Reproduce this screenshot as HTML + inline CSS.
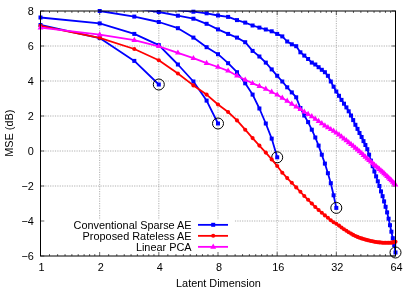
<!DOCTYPE html>
<html><head><meta charset="utf-8"><title>MSE vs Latent Dimension</title>
<style>html,body{margin:0;padding:0;background:#fff;}body{width:415px;height:291px;overflow:hidden;font-family:"Liberation Sans",sans-serif;}</style>
</head><body>
<svg width="415" height="291" viewBox="0 0 415 291" style="display:block">
<rect width="415" height="291" fill="#fff"/>
<defs><clipPath id="c"><rect x="37.5" y="10.5" width="361.0" height="251.0"/></clipPath></defs>
<g stroke="#9c9c9c" stroke-width="0.8" stroke-dasharray="1.2,1.2" fill="none"><line x1="99.67" y1="11.0" x2="99.67" y2="256.0"/><line x1="158.83" y1="11.0" x2="158.83" y2="256.0"/><line x1="218.00" y1="11.0" x2="218.00" y2="256.0"/><line x1="277.17" y1="11.0" x2="277.17" y2="256.0"/><line x1="336.33" y1="11.0" x2="336.33" y2="256.0"/><line x1="40.5" y1="46.00" x2="395.5" y2="46.00"/><line x1="40.5" y1="81.00" x2="395.5" y2="81.00"/><line x1="40.5" y1="116.00" x2="395.5" y2="116.00"/><line x1="40.5" y1="151.00" x2="395.5" y2="151.00"/><line x1="40.5" y1="186.00" x2="395.5" y2="186.00"/><line x1="40.5" y1="221.00" x2="395.5" y2="221.00"/></g>
<rect x="41" y="219.8" width="193.5" height="35.7" fill="#fff"/>
<g stroke="#000" stroke-width="0.6"><line x1="40.50" y1="256.0" x2="40.50" y2="252.0"/><line x1="40.50" y1="11.0" x2="40.50" y2="15.0"/><line x1="49.49" y1="256.0" x2="49.49" y2="254.0"/><line x1="49.49" y1="11.0" x2="49.49" y2="13.0"/><line x1="57.63" y1="256.0" x2="57.63" y2="254.0"/><line x1="57.63" y1="11.0" x2="57.63" y2="13.0"/><line x1="65.06" y1="256.0" x2="65.06" y2="254.0"/><line x1="65.06" y1="11.0" x2="65.06" y2="13.0"/><line x1="71.89" y1="256.0" x2="71.89" y2="254.0"/><line x1="71.89" y1="11.0" x2="71.89" y2="13.0"/><line x1="78.21" y1="256.0" x2="78.21" y2="254.0"/><line x1="78.21" y1="11.0" x2="78.21" y2="13.0"/><line x1="84.10" y1="256.0" x2="84.10" y2="254.0"/><line x1="84.10" y1="11.0" x2="84.10" y2="13.0"/><line x1="89.61" y1="256.0" x2="89.61" y2="254.0"/><line x1="89.61" y1="11.0" x2="89.61" y2="13.0"/><line x1="94.79" y1="256.0" x2="94.79" y2="254.0"/><line x1="94.79" y1="11.0" x2="94.79" y2="13.0"/><line x1="99.67" y1="256.0" x2="99.67" y2="252.0"/><line x1="99.67" y1="11.0" x2="99.67" y2="15.0"/><line x1="108.66" y1="256.0" x2="108.66" y2="254.0"/><line x1="108.66" y1="11.0" x2="108.66" y2="13.0"/><line x1="116.80" y1="256.0" x2="116.80" y2="254.0"/><line x1="116.80" y1="11.0" x2="116.80" y2="13.0"/><line x1="124.22" y1="256.0" x2="124.22" y2="254.0"/><line x1="124.22" y1="11.0" x2="124.22" y2="13.0"/><line x1="131.06" y1="256.0" x2="131.06" y2="254.0"/><line x1="131.06" y1="11.0" x2="131.06" y2="13.0"/><line x1="137.38" y1="256.0" x2="137.38" y2="254.0"/><line x1="137.38" y1="11.0" x2="137.38" y2="13.0"/><line x1="143.27" y1="256.0" x2="143.27" y2="254.0"/><line x1="143.27" y1="11.0" x2="143.27" y2="13.0"/><line x1="148.78" y1="256.0" x2="148.78" y2="254.0"/><line x1="148.78" y1="11.0" x2="148.78" y2="13.0"/><line x1="153.95" y1="256.0" x2="153.95" y2="254.0"/><line x1="153.95" y1="11.0" x2="153.95" y2="13.0"/><line x1="158.83" y1="256.0" x2="158.83" y2="252.0"/><line x1="158.83" y1="11.0" x2="158.83" y2="15.0"/><line x1="167.83" y1="256.0" x2="167.83" y2="254.0"/><line x1="167.83" y1="11.0" x2="167.83" y2="13.0"/><line x1="175.96" y1="256.0" x2="175.96" y2="254.0"/><line x1="175.96" y1="11.0" x2="175.96" y2="13.0"/><line x1="183.39" y1="256.0" x2="183.39" y2="254.0"/><line x1="183.39" y1="11.0" x2="183.39" y2="13.0"/><line x1="190.22" y1="256.0" x2="190.22" y2="254.0"/><line x1="190.22" y1="11.0" x2="190.22" y2="13.0"/><line x1="196.55" y1="256.0" x2="196.55" y2="254.0"/><line x1="196.55" y1="11.0" x2="196.55" y2="13.0"/><line x1="202.44" y1="256.0" x2="202.44" y2="254.0"/><line x1="202.44" y1="11.0" x2="202.44" y2="13.0"/><line x1="207.95" y1="256.0" x2="207.95" y2="254.0"/><line x1="207.95" y1="11.0" x2="207.95" y2="13.0"/><line x1="213.12" y1="256.0" x2="213.12" y2="254.0"/><line x1="213.12" y1="11.0" x2="213.12" y2="13.0"/><line x1="218.00" y1="256.0" x2="218.00" y2="252.0"/><line x1="218.00" y1="11.0" x2="218.00" y2="15.0"/><line x1="226.99" y1="256.0" x2="226.99" y2="254.0"/><line x1="226.99" y1="11.0" x2="226.99" y2="13.0"/><line x1="235.13" y1="256.0" x2="235.13" y2="254.0"/><line x1="235.13" y1="11.0" x2="235.13" y2="13.0"/><line x1="242.56" y1="256.0" x2="242.56" y2="254.0"/><line x1="242.56" y1="11.0" x2="242.56" y2="13.0"/><line x1="249.39" y1="256.0" x2="249.39" y2="254.0"/><line x1="249.39" y1="11.0" x2="249.39" y2="13.0"/><line x1="255.71" y1="256.0" x2="255.71" y2="254.0"/><line x1="255.71" y1="11.0" x2="255.71" y2="13.0"/><line x1="261.60" y1="256.0" x2="261.60" y2="254.0"/><line x1="261.60" y1="11.0" x2="261.60" y2="13.0"/><line x1="267.11" y1="256.0" x2="267.11" y2="254.0"/><line x1="267.11" y1="11.0" x2="267.11" y2="13.0"/><line x1="272.29" y1="256.0" x2="272.29" y2="254.0"/><line x1="272.29" y1="11.0" x2="272.29" y2="13.0"/><line x1="277.17" y1="256.0" x2="277.17" y2="252.0"/><line x1="277.17" y1="11.0" x2="277.17" y2="15.0"/><line x1="286.16" y1="256.0" x2="286.16" y2="254.0"/><line x1="286.16" y1="11.0" x2="286.16" y2="13.0"/><line x1="294.30" y1="256.0" x2="294.30" y2="254.0"/><line x1="294.30" y1="11.0" x2="294.30" y2="13.0"/><line x1="301.72" y1="256.0" x2="301.72" y2="254.0"/><line x1="301.72" y1="11.0" x2="301.72" y2="13.0"/><line x1="308.56" y1="256.0" x2="308.56" y2="254.0"/><line x1="308.56" y1="11.0" x2="308.56" y2="13.0"/><line x1="314.88" y1="256.0" x2="314.88" y2="254.0"/><line x1="314.88" y1="11.0" x2="314.88" y2="13.0"/><line x1="320.77" y1="256.0" x2="320.77" y2="254.0"/><line x1="320.77" y1="11.0" x2="320.77" y2="13.0"/><line x1="326.28" y1="256.0" x2="326.28" y2="254.0"/><line x1="326.28" y1="11.0" x2="326.28" y2="13.0"/><line x1="331.45" y1="256.0" x2="331.45" y2="254.0"/><line x1="331.45" y1="11.0" x2="331.45" y2="13.0"/><line x1="336.33" y1="256.0" x2="336.33" y2="252.0"/><line x1="336.33" y1="11.0" x2="336.33" y2="15.0"/><line x1="345.33" y1="256.0" x2="345.33" y2="254.0"/><line x1="345.33" y1="11.0" x2="345.33" y2="13.0"/><line x1="353.46" y1="256.0" x2="353.46" y2="254.0"/><line x1="353.46" y1="11.0" x2="353.46" y2="13.0"/><line x1="360.89" y1="256.0" x2="360.89" y2="254.0"/><line x1="360.89" y1="11.0" x2="360.89" y2="13.0"/><line x1="367.72" y1="256.0" x2="367.72" y2="254.0"/><line x1="367.72" y1="11.0" x2="367.72" y2="13.0"/><line x1="374.05" y1="256.0" x2="374.05" y2="254.0"/><line x1="374.05" y1="11.0" x2="374.05" y2="13.0"/><line x1="379.94" y1="256.0" x2="379.94" y2="254.0"/><line x1="379.94" y1="11.0" x2="379.94" y2="13.0"/><line x1="385.45" y1="256.0" x2="385.45" y2="254.0"/><line x1="385.45" y1="11.0" x2="385.45" y2="13.0"/><line x1="390.62" y1="256.0" x2="390.62" y2="254.0"/><line x1="390.62" y1="11.0" x2="390.62" y2="13.0"/><line x1="395.50" y1="256.0" x2="395.50" y2="252.0"/><line x1="395.50" y1="11.0" x2="395.50" y2="15.0"/><line x1="40.5" y1="11.00" x2="44.3" y2="11.00"/><line x1="395.5" y1="11.00" x2="391.7" y2="11.00"/><line x1="40.5" y1="46.00" x2="44.3" y2="46.00"/><line x1="395.5" y1="46.00" x2="391.7" y2="46.00"/><line x1="40.5" y1="81.00" x2="44.3" y2="81.00"/><line x1="395.5" y1="81.00" x2="391.7" y2="81.00"/><line x1="40.5" y1="116.00" x2="44.3" y2="116.00"/><line x1="395.5" y1="116.00" x2="391.7" y2="116.00"/><line x1="40.5" y1="151.00" x2="44.3" y2="151.00"/><line x1="395.5" y1="151.00" x2="391.7" y2="151.00"/><line x1="40.5" y1="186.00" x2="44.3" y2="186.00"/><line x1="395.5" y1="186.00" x2="391.7" y2="186.00"/><line x1="40.5" y1="221.00" x2="44.3" y2="221.00"/><line x1="395.5" y1="221.00" x2="391.7" y2="221.00"/><line x1="40.5" y1="256.00" x2="44.3" y2="256.00"/><line x1="395.5" y1="256.00" x2="391.7" y2="256.00"/></g>
<g clip-path="url(#c)">
<polyline points="40.5,25.0 99.7,38.1 134.3,60.9 158.8,84.5" fill="none" stroke="#0000ff" stroke-width="1.8" stroke-linejoin="round"/>
<polyline points="40.5,17.5 99.7,23.4 134.3,33.9 158.8,45.1 177.9,64.5 193.4,81.5 206.6,100.6 218.0,123.5" fill="none" stroke="#0000ff" stroke-width="1.8" stroke-linejoin="round"/>
<polyline points="99.7,11.0 134.3,16.6 158.8,22.0 177.9,28.2 193.4,37.6 206.6,47.2 218.0,54.2 228.1,63.2 237.0,72.2 245.2,83.3 252.6,94.6 259.4,108.5 265.8,123.5 271.7,138.6 277.2,157.3" fill="none" stroke="#0000ff" stroke-width="1.8" stroke-linejoin="round"/>
<polyline points="134.3,8.2 158.8,12.0 177.9,15.7 193.4,18.7 206.6,23.8 218.0,29.4 228.1,33.9 237.0,37.6 245.2,42.2 252.6,50.9 259.4,56.5 265.8,62.6 271.7,69.4 277.2,75.8 282.3,81.5 287.2,87.3 291.8,92.4 296.2,97.3 300.4,108.0 304.3,115.5 308.1,122.1 311.8,129.7 315.3,137.5 318.6,145.6 321.8,154.7 324.9,163.6 327.9,173.2 330.8,183.2 333.6,195.3 336.3,207.9" fill="none" stroke="#0000ff" stroke-width="1.8" stroke-linejoin="round"/>
<polyline points="177.9,10.3 193.4,11.7 206.6,13.3 218.0,15.5 228.1,16.9 237.0,20.1 245.2,22.6 252.6,25.5 259.4,27.6 265.8,29.5 271.7,31.3 277.2,33.9 282.3,36.4 287.2,41.5 291.8,44.3 296.2,46.2 300.4,52.3 304.3,55.6 308.1,59.0 311.8,62.6 315.3,64.5 318.6,67.2 321.8,69.8 324.9,72.2 327.9,75.8 330.8,81.5 333.6,86.7 336.3,91.5 339.0,95.8 341.5,99.9 344.0,103.7 346.4,107.4 348.7,111.3 351.0,115.5 353.2,120.1 355.4,124.8 357.5,128.9 359.5,133.0 361.6,137.0 363.5,141.1 365.4,145.0 367.3,149.2 369.1,154.7 370.9,160.6 372.7,166.2 374.4,171.5 376.1,176.4 377.8,181.3 379.4,186.0 381.0,191.4 382.6,196.2 384.1,201.4 385.6,206.8 387.1,212.4 388.6,218.7 390.0,225.2 391.4,231.7 392.8,238.2 394.2,245.0 395.5,252.5" fill="none" stroke="#0000ff" stroke-width="1.8" stroke-linejoin="round"/>
</g>
<rect x="38.5" y="23.0" width="4.0" height="4.0" fill="#0000ff"/><rect x="97.7" y="36.1" width="4.0" height="4.0" fill="#0000ff"/><rect x="132.3" y="58.9" width="4.0" height="4.0" fill="#0000ff"/><rect x="156.8" y="82.5" width="4.0" height="4.0" fill="#0000ff"/><rect x="38.5" y="15.5" width="4.0" height="4.0" fill="#0000ff"/><rect x="97.7" y="21.4" width="4.0" height="4.0" fill="#0000ff"/><rect x="132.3" y="31.9" width="4.0" height="4.0" fill="#0000ff"/><rect x="156.8" y="43.1" width="4.0" height="4.0" fill="#0000ff"/><rect x="175.9" y="62.5" width="4.0" height="4.0" fill="#0000ff"/><rect x="191.4" y="79.5" width="4.0" height="4.0" fill="#0000ff"/><rect x="204.6" y="98.6" width="4.0" height="4.0" fill="#0000ff"/><rect x="216.0" y="121.5" width="4.0" height="4.0" fill="#0000ff"/><rect x="97.7" y="9.0" width="4.0" height="4.0" fill="#0000ff"/><rect x="132.3" y="14.6" width="4.0" height="4.0" fill="#0000ff"/><rect x="156.8" y="20.0" width="4.0" height="4.0" fill="#0000ff"/><rect x="175.9" y="26.2" width="4.0" height="4.0" fill="#0000ff"/><rect x="191.4" y="35.6" width="4.0" height="4.0" fill="#0000ff"/><rect x="204.6" y="45.2" width="4.0" height="4.0" fill="#0000ff"/><rect x="216.0" y="52.2" width="4.0" height="4.0" fill="#0000ff"/><rect x="226.1" y="61.2" width="4.0" height="4.0" fill="#0000ff"/><rect x="235.0" y="70.2" width="4.0" height="4.0" fill="#0000ff"/><rect x="243.2" y="81.3" width="4.0" height="4.0" fill="#0000ff"/><rect x="250.6" y="92.6" width="4.0" height="4.0" fill="#0000ff"/><rect x="257.4" y="106.5" width="4.0" height="4.0" fill="#0000ff"/><rect x="263.8" y="121.5" width="4.0" height="4.0" fill="#0000ff"/><rect x="269.7" y="136.6" width="4.0" height="4.0" fill="#0000ff"/><rect x="275.2" y="155.3" width="4.0" height="4.0" fill="#0000ff"/><rect x="156.8" y="10.0" width="4.0" height="4.0" fill="#0000ff"/><rect x="175.9" y="13.7" width="4.0" height="4.0" fill="#0000ff"/><rect x="191.4" y="16.7" width="4.0" height="4.0" fill="#0000ff"/><rect x="204.6" y="21.8" width="4.0" height="4.0" fill="#0000ff"/><rect x="216.0" y="27.4" width="4.0" height="4.0" fill="#0000ff"/><rect x="226.1" y="31.9" width="4.0" height="4.0" fill="#0000ff"/><rect x="235.0" y="35.6" width="4.0" height="4.0" fill="#0000ff"/><rect x="243.2" y="40.2" width="4.0" height="4.0" fill="#0000ff"/><rect x="250.6" y="48.9" width="4.0" height="4.0" fill="#0000ff"/><rect x="257.4" y="54.5" width="4.0" height="4.0" fill="#0000ff"/><rect x="263.8" y="60.6" width="4.0" height="4.0" fill="#0000ff"/><rect x="269.7" y="67.4" width="4.0" height="4.0" fill="#0000ff"/><rect x="275.2" y="73.8" width="4.0" height="4.0" fill="#0000ff"/><rect x="280.3" y="79.5" width="4.0" height="4.0" fill="#0000ff"/><rect x="285.2" y="85.3" width="4.0" height="4.0" fill="#0000ff"/><rect x="289.8" y="90.4" width="4.0" height="4.0" fill="#0000ff"/><rect x="294.2" y="95.3" width="4.0" height="4.0" fill="#0000ff"/><rect x="298.4" y="106.0" width="4.0" height="4.0" fill="#0000ff"/><rect x="302.3" y="113.5" width="4.0" height="4.0" fill="#0000ff"/><rect x="306.1" y="120.1" width="4.0" height="4.0" fill="#0000ff"/><rect x="309.8" y="127.7" width="4.0" height="4.0" fill="#0000ff"/><rect x="313.3" y="135.5" width="4.0" height="4.0" fill="#0000ff"/><rect x="316.6" y="143.6" width="4.0" height="4.0" fill="#0000ff"/><rect x="319.8" y="152.7" width="4.0" height="4.0" fill="#0000ff"/><rect x="322.9" y="161.6" width="4.0" height="4.0" fill="#0000ff"/><rect x="325.9" y="171.2" width="4.0" height="4.0" fill="#0000ff"/><rect x="328.8" y="181.2" width="4.0" height="4.0" fill="#0000ff"/><rect x="331.6" y="193.3" width="4.0" height="4.0" fill="#0000ff"/><rect x="334.3" y="205.9" width="4.0" height="4.0" fill="#0000ff"/><rect x="191.4" y="9.7" width="4.0" height="4.0" fill="#0000ff"/><rect x="204.6" y="11.3" width="4.0" height="4.0" fill="#0000ff"/><rect x="216.0" y="13.5" width="4.0" height="4.0" fill="#0000ff"/><rect x="226.1" y="14.9" width="4.0" height="4.0" fill="#0000ff"/><rect x="235.0" y="18.1" width="4.0" height="4.0" fill="#0000ff"/><rect x="243.2" y="20.6" width="4.0" height="4.0" fill="#0000ff"/><rect x="250.6" y="23.5" width="4.0" height="4.0" fill="#0000ff"/><rect x="257.4" y="25.6" width="4.0" height="4.0" fill="#0000ff"/><rect x="263.8" y="27.5" width="4.0" height="4.0" fill="#0000ff"/><rect x="269.7" y="29.3" width="4.0" height="4.0" fill="#0000ff"/><rect x="275.2" y="31.9" width="4.0" height="4.0" fill="#0000ff"/><rect x="280.3" y="34.4" width="4.0" height="4.0" fill="#0000ff"/><rect x="285.2" y="39.5" width="4.0" height="4.0" fill="#0000ff"/><rect x="289.8" y="42.3" width="4.0" height="4.0" fill="#0000ff"/><rect x="294.2" y="44.2" width="4.0" height="4.0" fill="#0000ff"/><rect x="298.4" y="50.3" width="4.0" height="4.0" fill="#0000ff"/><rect x="302.3" y="53.6" width="4.0" height="4.0" fill="#0000ff"/><rect x="306.1" y="57.0" width="4.0" height="4.0" fill="#0000ff"/><rect x="309.8" y="60.6" width="4.0" height="4.0" fill="#0000ff"/><rect x="313.3" y="62.5" width="4.0" height="4.0" fill="#0000ff"/><rect x="316.6" y="65.2" width="4.0" height="4.0" fill="#0000ff"/><rect x="319.8" y="67.8" width="4.0" height="4.0" fill="#0000ff"/><rect x="322.9" y="70.2" width="4.0" height="4.0" fill="#0000ff"/><rect x="325.9" y="73.8" width="4.0" height="4.0" fill="#0000ff"/><rect x="328.8" y="79.5" width="4.0" height="4.0" fill="#0000ff"/><rect x="331.6" y="84.7" width="4.0" height="4.0" fill="#0000ff"/><rect x="334.3" y="89.5" width="4.0" height="4.0" fill="#0000ff"/><rect x="337.0" y="93.8" width="4.0" height="4.0" fill="#0000ff"/><rect x="339.5" y="97.9" width="4.0" height="4.0" fill="#0000ff"/><rect x="342.0" y="101.7" width="4.0" height="4.0" fill="#0000ff"/><rect x="344.4" y="105.4" width="4.0" height="4.0" fill="#0000ff"/><rect x="346.7" y="109.3" width="4.0" height="4.0" fill="#0000ff"/><rect x="349.0" y="113.5" width="4.0" height="4.0" fill="#0000ff"/><rect x="351.2" y="118.1" width="4.0" height="4.0" fill="#0000ff"/><rect x="353.4" y="122.8" width="4.0" height="4.0" fill="#0000ff"/><rect x="355.5" y="126.9" width="4.0" height="4.0" fill="#0000ff"/><rect x="357.5" y="131.0" width="4.0" height="4.0" fill="#0000ff"/><rect x="359.6" y="135.0" width="4.0" height="4.0" fill="#0000ff"/><rect x="361.5" y="139.1" width="4.0" height="4.0" fill="#0000ff"/><rect x="363.4" y="143.0" width="4.0" height="4.0" fill="#0000ff"/><rect x="365.3" y="147.2" width="4.0" height="4.0" fill="#0000ff"/><rect x="367.1" y="152.7" width="4.0" height="4.0" fill="#0000ff"/><rect x="368.9" y="158.6" width="4.0" height="4.0" fill="#0000ff"/><rect x="370.7" y="164.2" width="4.0" height="4.0" fill="#0000ff"/><rect x="372.4" y="169.5" width="4.0" height="4.0" fill="#0000ff"/><rect x="374.1" y="174.4" width="4.0" height="4.0" fill="#0000ff"/><rect x="375.8" y="179.3" width="4.0" height="4.0" fill="#0000ff"/><rect x="377.4" y="184.0" width="4.0" height="4.0" fill="#0000ff"/><rect x="379.0" y="189.4" width="4.0" height="4.0" fill="#0000ff"/><rect x="380.6" y="194.2" width="4.0" height="4.0" fill="#0000ff"/><rect x="382.1" y="199.4" width="4.0" height="4.0" fill="#0000ff"/><rect x="383.6" y="204.8" width="4.0" height="4.0" fill="#0000ff"/><rect x="385.1" y="210.4" width="4.0" height="4.0" fill="#0000ff"/><rect x="386.6" y="216.7" width="4.0" height="4.0" fill="#0000ff"/><rect x="388.0" y="223.2" width="4.0" height="4.0" fill="#0000ff"/><rect x="389.4" y="229.7" width="4.0" height="4.0" fill="#0000ff"/><rect x="390.8" y="236.2" width="4.0" height="4.0" fill="#0000ff"/><rect x="392.2" y="243.0" width="4.0" height="4.0" fill="#0000ff"/><rect x="393.5" y="250.5" width="4.0" height="4.0" fill="#0000ff"/>
<circle cx="158.8" cy="84.5" r="5.5" fill="none" stroke="#000" stroke-width="1"/>
<circle cx="218.0" cy="123.5" r="5.5" fill="none" stroke="#000" stroke-width="1"/>
<circle cx="277.2" cy="157.3" r="5.5" fill="none" stroke="#000" stroke-width="1"/>
<circle cx="336.3" cy="207.9" r="5.5" fill="none" stroke="#000" stroke-width="1"/>
<circle cx="395.5" cy="252.5" r="5.5" fill="none" stroke="#000" stroke-width="1"/>
<g clip-path="url(#c)"><polyline points="40.5,25.9 99.7,37.8 134.3,49.0 158.8,60.2 177.9,73.5 193.4,85.4 206.6,94.6 218.0,104.5 228.1,112.0 237.0,120.4 245.2,129.7 252.6,138.1 259.4,145.6 265.8,152.6 271.7,159.4 277.2,166.0 282.3,172.7 287.2,178.1 291.8,182.8 296.2,187.4 300.4,191.8 304.3,196.0 308.1,199.8 311.8,203.5 315.3,207.0 318.6,210.0 321.8,212.8 324.9,215.4 327.9,217.8 330.8,220.3 333.6,222.2 336.3,223.8 339.0,225.6 341.5,227.5 344.0,229.2 346.4,230.8 348.7,232.2 351.0,233.6 353.2,234.9 355.4,236.0 357.5,236.9 359.5,237.7 361.6,238.4 363.5,239.0 365.4,239.6 367.3,240.1 369.1,240.5 370.9,241.0 372.7,241.3 374.4,241.7 376.1,242.0 377.8,242.2 379.4,242.4 381.0,242.5 382.6,242.7 384.1,242.7 385.6,242.7 387.1,242.7 388.6,242.7 390.0,242.7 391.4,242.6 392.8,242.4 394.2,242.1 395.5,241.8" fill="none" stroke="#ff0000" stroke-width="1.8" stroke-linejoin="round"/></g><circle cx="40.5" cy="25.9" r="2.05" fill="#ff0000"/><circle cx="99.7" cy="37.8" r="2.05" fill="#ff0000"/><circle cx="134.3" cy="49.0" r="2.05" fill="#ff0000"/><circle cx="158.8" cy="60.2" r="2.05" fill="#ff0000"/><circle cx="177.9" cy="73.5" r="2.05" fill="#ff0000"/><circle cx="193.4" cy="85.4" r="2.05" fill="#ff0000"/><circle cx="206.6" cy="94.6" r="2.05" fill="#ff0000"/><circle cx="218.0" cy="104.5" r="2.05" fill="#ff0000"/><circle cx="228.1" cy="112.0" r="2.05" fill="#ff0000"/><circle cx="237.0" cy="120.4" r="2.05" fill="#ff0000"/><circle cx="245.2" cy="129.7" r="2.05" fill="#ff0000"/><circle cx="252.6" cy="138.1" r="2.05" fill="#ff0000"/><circle cx="259.4" cy="145.6" r="2.05" fill="#ff0000"/><circle cx="265.8" cy="152.6" r="2.05" fill="#ff0000"/><circle cx="271.7" cy="159.4" r="2.05" fill="#ff0000"/><circle cx="277.2" cy="166.0" r="2.05" fill="#ff0000"/><circle cx="282.3" cy="172.7" r="2.05" fill="#ff0000"/><circle cx="287.2" cy="178.1" r="2.05" fill="#ff0000"/><circle cx="291.8" cy="182.8" r="2.05" fill="#ff0000"/><circle cx="296.2" cy="187.4" r="2.05" fill="#ff0000"/><circle cx="300.4" cy="191.8" r="2.05" fill="#ff0000"/><circle cx="304.3" cy="196.0" r="2.05" fill="#ff0000"/><circle cx="308.1" cy="199.8" r="2.05" fill="#ff0000"/><circle cx="311.8" cy="203.5" r="2.05" fill="#ff0000"/><circle cx="315.3" cy="207.0" r="2.05" fill="#ff0000"/><circle cx="318.6" cy="210.0" r="2.05" fill="#ff0000"/><circle cx="321.8" cy="212.8" r="2.05" fill="#ff0000"/><circle cx="324.9" cy="215.4" r="2.05" fill="#ff0000"/><circle cx="327.9" cy="217.8" r="2.05" fill="#ff0000"/><circle cx="330.8" cy="220.3" r="2.05" fill="#ff0000"/><circle cx="333.6" cy="222.2" r="2.05" fill="#ff0000"/><circle cx="336.3" cy="223.8" r="2.05" fill="#ff0000"/><circle cx="339.0" cy="225.6" r="2.05" fill="#ff0000"/><circle cx="341.5" cy="227.5" r="2.05" fill="#ff0000"/><circle cx="344.0" cy="229.2" r="2.05" fill="#ff0000"/><circle cx="346.4" cy="230.8" r="2.05" fill="#ff0000"/><circle cx="348.7" cy="232.2" r="2.05" fill="#ff0000"/><circle cx="351.0" cy="233.6" r="2.05" fill="#ff0000"/><circle cx="353.2" cy="234.9" r="2.05" fill="#ff0000"/><circle cx="355.4" cy="236.0" r="2.05" fill="#ff0000"/><circle cx="357.5" cy="236.9" r="2.05" fill="#ff0000"/><circle cx="359.5" cy="237.7" r="2.05" fill="#ff0000"/><circle cx="361.6" cy="238.4" r="2.05" fill="#ff0000"/><circle cx="363.5" cy="239.0" r="2.05" fill="#ff0000"/><circle cx="365.4" cy="239.6" r="2.05" fill="#ff0000"/><circle cx="367.3" cy="240.1" r="2.05" fill="#ff0000"/><circle cx="369.1" cy="240.5" r="2.05" fill="#ff0000"/><circle cx="370.9" cy="241.0" r="2.05" fill="#ff0000"/><circle cx="372.7" cy="241.3" r="2.05" fill="#ff0000"/><circle cx="374.4" cy="241.7" r="2.05" fill="#ff0000"/><circle cx="376.1" cy="242.0" r="2.05" fill="#ff0000"/><circle cx="377.8" cy="242.2" r="2.05" fill="#ff0000"/><circle cx="379.4" cy="242.4" r="2.05" fill="#ff0000"/><circle cx="381.0" cy="242.5" r="2.05" fill="#ff0000"/><circle cx="382.6" cy="242.7" r="2.05" fill="#ff0000"/><circle cx="384.1" cy="242.7" r="2.05" fill="#ff0000"/><circle cx="385.6" cy="242.7" r="2.05" fill="#ff0000"/><circle cx="387.1" cy="242.7" r="2.05" fill="#ff0000"/><circle cx="388.6" cy="242.7" r="2.05" fill="#ff0000"/><circle cx="390.0" cy="242.7" r="2.05" fill="#ff0000"/><circle cx="391.4" cy="242.6" r="2.05" fill="#ff0000"/><circle cx="392.8" cy="242.4" r="2.05" fill="#ff0000"/><circle cx="394.2" cy="242.1" r="2.05" fill="#ff0000"/><circle cx="395.5" cy="241.8" r="2.05" fill="#ff0000"/>
<g clip-path="url(#c)"><polyline points="40.5,27.6 99.7,34.6 134.3,40.1 158.8,46.3 177.9,52.8 193.4,58.2 206.6,63.2 218.0,67.0 228.1,70.8 237.0,75.8 245.2,79.8 252.6,83.3 259.4,86.1 265.8,89.0 271.7,92.0 277.2,94.8 282.3,97.9 287.2,100.9 291.8,103.9 296.2,106.7 300.4,109.3 304.3,111.8 308.1,114.2 311.8,116.5 315.3,118.9 318.6,121.2 321.8,123.4 324.9,125.6 327.9,127.5 330.8,129.3 333.6,131.0 336.3,132.8 339.0,134.7 341.5,136.6 344.0,138.6 346.4,140.5 348.7,142.4 351.0,144.2 353.2,146.0 355.4,147.8 357.5,149.7 359.5,151.5 361.6,153.3 363.5,155.1 365.4,156.9 367.3,158.6 369.1,160.2 370.9,161.8 372.7,163.4 374.4,164.9 376.1,166.3 377.8,167.8 379.4,169.2 381.0,170.6 382.6,172.0 384.1,173.4 385.6,174.8 387.1,176.3 388.6,177.7 390.0,179.1 391.4,180.5 392.8,182.0 394.2,183.4 395.5,184.8" fill="none" stroke="#ff00ff" stroke-width="1.8" stroke-linejoin="round"/></g><path d="M40.5 24.2L43.4 29.4L37.6 29.4Z" fill="#ff00ff"/><path d="M99.7 31.2L102.6 36.4L96.8 36.4Z" fill="#ff00ff"/><path d="M134.3 36.7L137.2 41.9L131.4 41.9Z" fill="#ff00ff"/><path d="M158.8 42.9L161.7 48.1L155.9 48.1Z" fill="#ff00ff"/><path d="M177.9 49.4L180.8 54.6L175.0 54.6Z" fill="#ff00ff"/><path d="M193.4 54.9L196.3 60.0L190.5 60.0Z" fill="#ff00ff"/><path d="M206.6 59.8L209.5 65.0L203.7 65.0Z" fill="#ff00ff"/><path d="M218.0 63.6L220.9 68.8L215.1 68.8Z" fill="#ff00ff"/><path d="M228.1 67.4L231.0 72.6L225.2 72.6Z" fill="#ff00ff"/><path d="M237.0 72.3L239.9 77.5L234.1 77.5Z" fill="#ff00ff"/><path d="M245.2 76.4L248.1 81.6L242.3 81.6Z" fill="#ff00ff"/><path d="M252.6 79.9L255.5 85.1L249.7 85.1Z" fill="#ff00ff"/><path d="M259.4 82.7L262.3 87.9L256.5 87.9Z" fill="#ff00ff"/><path d="M265.8 85.6L268.7 90.8L262.9 90.8Z" fill="#ff00ff"/><path d="M271.7 88.6L274.6 93.8L268.8 93.8Z" fill="#ff00ff"/><path d="M277.2 91.4L280.1 96.6L274.3 96.6Z" fill="#ff00ff"/><path d="M282.3 94.5L285.2 99.7L279.4 99.7Z" fill="#ff00ff"/><path d="M287.2 97.5L290.1 102.7L284.3 102.7Z" fill="#ff00ff"/><path d="M291.8 100.5L294.7 105.7L288.9 105.7Z" fill="#ff00ff"/><path d="M296.2 103.3L299.1 108.5L293.3 108.5Z" fill="#ff00ff"/><path d="M300.4 105.9L303.3 111.1L297.5 111.1Z" fill="#ff00ff"/><path d="M304.3 108.4L307.2 113.6L301.4 113.6Z" fill="#ff00ff"/><path d="M308.1 110.8L311.0 116.0L305.2 116.0Z" fill="#ff00ff"/><path d="M311.8 113.1L314.7 118.3L308.9 118.3Z" fill="#ff00ff"/><path d="M315.3 115.5L318.2 120.7L312.4 120.7Z" fill="#ff00ff"/><path d="M318.6 117.8L321.5 123.0L315.7 123.0Z" fill="#ff00ff"/><path d="M321.8 120.0L324.7 125.2L318.9 125.2Z" fill="#ff00ff"/><path d="M324.9 122.2L327.8 127.4L322.0 127.4Z" fill="#ff00ff"/><path d="M327.9 124.1L330.8 129.3L325.0 129.3Z" fill="#ff00ff"/><path d="M330.8 125.9L333.7 131.1L327.9 131.1Z" fill="#ff00ff"/><path d="M333.6 127.6L336.5 132.8L330.7 132.8Z" fill="#ff00ff"/><path d="M336.3 129.4L339.2 134.6L333.4 134.6Z" fill="#ff00ff"/><path d="M339.0 131.3L341.9 136.5L336.1 136.5Z" fill="#ff00ff"/><path d="M341.5 133.2L344.4 138.4L338.6 138.4Z" fill="#ff00ff"/><path d="M344.0 135.2L346.9 140.4L341.1 140.4Z" fill="#ff00ff"/><path d="M346.4 137.1L349.3 142.3L343.5 142.3Z" fill="#ff00ff"/><path d="M348.7 139.0L351.6 144.2L345.8 144.2Z" fill="#ff00ff"/><path d="M351.0 140.8L353.9 146.0L348.1 146.0Z" fill="#ff00ff"/><path d="M353.2 142.6L356.1 147.8L350.3 147.8Z" fill="#ff00ff"/><path d="M355.4 144.4L358.3 149.7L352.5 149.7Z" fill="#ff00ff"/><path d="M357.5 146.3L360.4 151.5L354.6 151.5Z" fill="#ff00ff"/><path d="M359.5 148.1L362.4 153.3L356.6 153.3Z" fill="#ff00ff"/><path d="M361.6 149.9L364.5 155.1L358.7 155.1Z" fill="#ff00ff"/><path d="M363.5 151.7L366.4 156.9L360.6 156.9Z" fill="#ff00ff"/><path d="M365.4 153.5L368.3 158.7L362.5 158.7Z" fill="#ff00ff"/><path d="M367.3 155.2L370.2 160.4L364.4 160.4Z" fill="#ff00ff"/><path d="M369.1 156.8L372.0 162.0L366.2 162.0Z" fill="#ff00ff"/><path d="M370.9 158.4L373.8 163.6L368.0 163.6Z" fill="#ff00ff"/><path d="M372.7 160.0L375.6 165.2L369.8 165.2Z" fill="#ff00ff"/><path d="M374.4 161.5L377.3 166.7L371.5 166.7Z" fill="#ff00ff"/><path d="M376.1 162.9L379.0 168.1L373.2 168.1Z" fill="#ff00ff"/><path d="M377.8 164.4L380.7 169.6L374.9 169.6Z" fill="#ff00ff"/><path d="M379.4 165.8L382.3 171.0L376.5 171.0Z" fill="#ff00ff"/><path d="M381.0 167.2L383.9 172.4L378.1 172.4Z" fill="#ff00ff"/><path d="M382.6 168.6L385.5 173.8L379.7 173.8Z" fill="#ff00ff"/><path d="M384.1 170.0L387.0 175.2L381.2 175.2Z" fill="#ff00ff"/><path d="M385.6 171.4L388.5 176.6L382.7 176.6Z" fill="#ff00ff"/><path d="M387.1 172.9L390.0 178.1L384.2 178.1Z" fill="#ff00ff"/><path d="M388.6 174.3L391.5 179.5L385.7 179.5Z" fill="#ff00ff"/><path d="M390.0 175.7L392.9 180.9L387.1 180.9Z" fill="#ff00ff"/><path d="M391.4 177.1L394.3 182.3L388.5 182.3Z" fill="#ff00ff"/><path d="M392.8 178.6L395.7 183.8L389.9 183.8Z" fill="#ff00ff"/><path d="M394.2 180.0L397.1 185.2L391.3 185.2Z" fill="#ff00ff"/><path d="M395.5 181.4L398.4 186.6L392.6 186.6Z" fill="#ff00ff"/>
<rect x="40.5" y="11.0" width="355.0" height="245.0" fill="none" stroke="#000" stroke-width="1"/>
<line x1="198" y1="224.85" x2="228" y2="224.85" stroke="#0000ff" stroke-width="1.8"/>
<rect x="211.2" y="222.8" width="4.0" height="4.0" fill="#0000ff"/>
<line x1="198" y1="235.85" x2="228" y2="235.85" stroke="#ff0000" stroke-width="1.8"/>
<circle cx="213.2" cy="235.8" r="2.05" fill="#ff0000"/>
<line x1="198" y1="246.85" x2="228" y2="246.85" stroke="#ff00ff" stroke-width="1.8"/>
<path d="M213.2 243.4L216.1 248.7L210.3 248.7Z" fill="#ff00ff"/>
<g font-family="'Liberation Sans', sans-serif" font-size="10.9" fill="#000" style="filter:grayscale(1)"><text x="191.6" y="228.5" text-anchor="end">Conventional Sparse AE</text><text x="191.6" y="239.5" text-anchor="end">Proposed Rateless AE</text><text x="191.6" y="250.5" text-anchor="end">Linear PCA</text><text x="41.5" y="270.9" text-anchor="middle">1</text><text x="100.7" y="270.9" text-anchor="middle">2</text><text x="159.8" y="270.9" text-anchor="middle">4</text><text x="219.0" y="270.9" text-anchor="middle">8</text><text x="278.2" y="270.9" text-anchor="middle">16</text><text x="337.3" y="270.9" text-anchor="middle">32</text><text x="396.5" y="270.9" text-anchor="middle">64</text><text x="33.9" y="15.0" text-anchor="end">8</text><text x="33.9" y="50.0" text-anchor="end">6</text><text x="33.9" y="85.0" text-anchor="end">4</text><text x="33.9" y="120.0" text-anchor="end">2</text><text x="33.9" y="155.0" text-anchor="end">0</text><text x="33.9" y="190.0" text-anchor="end">−2</text><text x="33.9" y="225.0" text-anchor="end">−4</text><text x="33.9" y="260.0" text-anchor="end">−6</text><text x="218.4" y="286.9" text-anchor="middle">Latent Dimension</text><text transform="translate(12.5,133.2) rotate(-90)" text-anchor="middle">MSE (dB)</text></g>
</svg>
</body></html>
